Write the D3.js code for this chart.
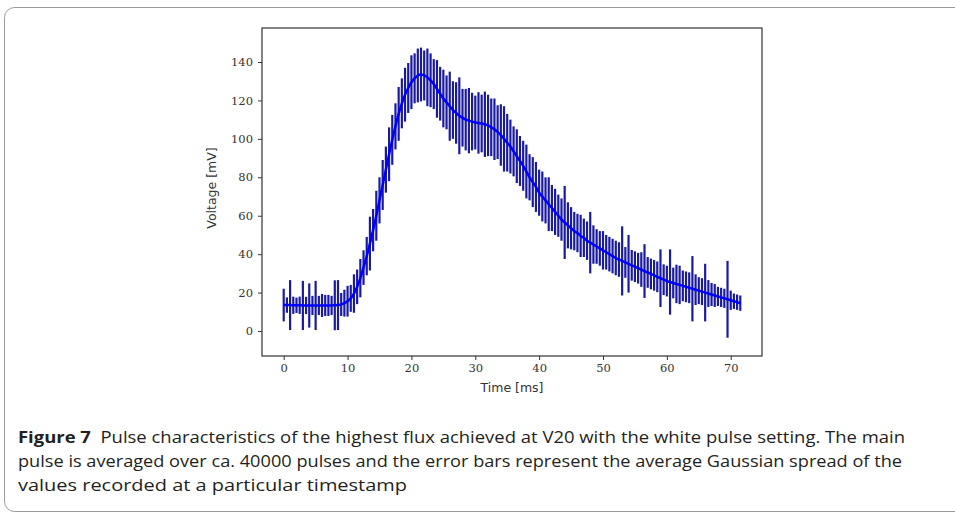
<!DOCTYPE html>
<html><head><meta charset="utf-8">
<script src="https://cdn.jsdelivr.net/npm/d3@7"></script>
<style>body{margin:0;background:#fff;}svg{display:block;}</style>
</head><body>
<svg id="chart" width="955" height="517"></svg>
<script>
// Time [ms], 0.5 ms steps
const times = [
 0,0.5,1,1.5,2,2.5,3,3.5,4,4.5,5,5.5,6,6.5,7,7.5,8,8.5,9,9.5,
 10,10.5,11,11.5,12,12.5,13,13.5,14,14.5,15,15.5,16,16.5,17,17.5,18,18.5,19,19.5,
 20,20.5,21,21.5,22,22.5,23,23.5,24,24.5,25,25.5,26,26.5,27,27.5,28,28.5,29,29.5,
 30,30.5,31,31.5,32,32.5,33,33.5,34,34.5,35,35.5,36,36.5,37,37.5,38,38.5,39,39.5,
 40,40.5,41,41.5,42,42.5,43,43.5,44,44.5,45,45.5,46,46.5,47,47.5,48,48.5,49,49.5,
 50,50.5,51,51.5,52,52.5,53,53.5,54,54.5,55,55.5,56,56.5,57,57.5,58,58.5,59,59.5,
 60,60.5,61,61.5,62,62.5,63,63.5,64,64.5,65,65.5,66,66.5,67,67.5,68,68.5,69,69.5,
 70,70.5,71,71.5];
// Mean voltage [mV]
const voltage = [
 13.5,13.5,13.5,13.4,13.4,13.4,13.3,13.3,13.3,13.3,13.3,13.3,13.3,13.3,13.3,13.3,13.4,13.5,13.8,14.5,
 15.5,17,19.5,23,27.5,33,39,45.5,52.5,60,68,76,84,92,99.5,106.5,113,118.5,123,126.5,
 129.5,131.5,133,133.5,133,132,130.5,128.5,126,123.5,121,119,117,115,113.5,112,111,110,109.5,109,
 108.5,108.3,108,107.6,107,106,105,103.5,102,100,98,96,93.5,91,88.5,86,83,80,77.5,75,
 72,70,68,66,64,62,60,58,56.5,55,53.5,52,51,49.5,48.5,47,46,45,44,43,
 42,41,40,39,38,37.2,36.5,35.7,35,34.2,33.5,32.7,32,31.2,30.5,29.7,29,28.2,27.5,26.7,
 26,25.5,25,24.5,24,23.5,23,22.5,22,21.5,21,20.5,20,19.5,19,18.5,18,17.5,17,16.5,
 16,15.5,15,14.5];
// Gaussian spread (half length of error bar) [mV]
const spread = [
 8.5,4,13,4.5,4,4.5,12.8,4.5,11.5,5,12.8,5,6,5.5,5.5,5,13,13,6,7,
 8,7,10,9,10,9,10,14,11,13,12,13,12,14,13,12,14,13,14,13,
 14,13,14,14,13,15,14,13,15,14,15,14,18,15,16,20,15,16,17,15,
 14,16,15,17,16,15,16,14,16,17,15,14,13,14,13,13,14,12,13,13,
 12,13,12,14,12,12,11,11,19,12,11,10,10,11,10,10,16,10,9,9,
 10,9,9,9,9,9,18,8,15,8,8,8,9,14,8,8,8,8,15,8,
 8,17,8,10,10,8,8,8,17,8,7,7,15,7,6,6,5,5,5,20,
 5,4,4,4];
const xTicks = [0,10,20,30,40,50,60,70];
const yTicks = [0,20,40,60,80,100,120,140];
const xLabel = "Time [ms]";
const yLabel = "Voltage [mV]";
const captionBold = "Figure 7";
const captionLines = [
 "Pulse characteristics of the highest flux achieved at V20 with the white pulse setting. The main",
 "pulse is averaged over ca. 40000 pulses and the error bars represent the average Gaussian spread of the",
 "values recorded at a particular timestamp"
];

const data = times.map((t,i)=>({t, v: voltage[i], e: spread[i]}));
const svg = d3.select("#chart");

// outer figure frame
svg.append("rect").attr("x",4.5).attr("y",7.5).attr("width",1000).attr("height",504)
  .attr("rx",10).attr("fill","none").attr("stroke","#9a9a9a").attr("stroke-width",1);

const L=262, R=762, T=28, B=356;
const x = d3.scaleLinear().domain([-3.4, 74.9]).range([L, R]);
const y = d3.scaleLinear().domain([-13, 157.7]).range([B, T]);

const serif = "'DejaVu Serif','Liberation Serif',serif";

const xAxis = svg.append("g").attr("transform",`translate(0,${B})`)
  .call(d3.axisBottom(x).tickValues(xTicks).tickSize(4).tickPadding(4).tickFormat(d3.format("d")));
const yAxis = svg.append("g").attr("transform",`translate(${L},0)`)
  .call(d3.axisLeft(y).tickValues(yTicks).tickSize(4).tickPadding(5).tickFormat(d3.format("d")));
[xAxis,yAxis].forEach(g=>{
  g.select(".domain").remove();
  g.selectAll(".tick line").attr("stroke","#333");
  g.selectAll(".tick text").attr("fill","#333").style("font-family",serif).style("font-size","11.5px");
});

// error bars
svg.append("g").selectAll("line").data(data).join("line")
  .attr("x1",d=>x(d.t)).attr("x2",d=>x(d.t))
  .attr("y1",d=>y(d.v-d.e)).attr("y2",d=>y(d.v+d.e))
  .attr("stroke","#1a1a9e").attr("stroke-width",2.2);

// mean line
svg.append("path").datum(data)
  .attr("d", d3.line().x(d=>x(d.t)).y(d=>y(d.v)).curve(d3.curveMonotoneX))
  .attr("fill","none").attr("stroke","#0000ff").attr("stroke-width",2.5);

// plot frame
svg.append("rect").attr("x",L).attr("y",T).attr("width",R-L).attr("height",B-T)
  .attr("fill","none").attr("stroke","#333").attr("stroke-width",1.2);

svg.append("text").attr("x",(L+R)/2).attr("y",392).attr("text-anchor","middle")
  .style("font-family","'DejaVu Sans','Liberation Sans',sans-serif").style("font-size","12.5px")
  .attr("fill","#333").text(xLabel);
svg.append("text").attr("transform",`translate(216,${(T+B)/2 - 4}) rotate(-90)`).attr("text-anchor","middle")
  .style("font-family","'DejaVu Sans','Liberation Sans',sans-serif").style("font-size","12.5px")
  .attr("fill","#333").text(yLabel);

// caption
const capFont = "'Open Sans','Noto Sans',sans-serif";
const lineY = [443, 467, 491];
const lineW = [887, 884, 389];
captionLines.forEach((ln,i)=>{
  const t = svg.append("text").attr("x",18).attr("y",lineY[i])
    .attr("textLength",lineW[i]).attr("lengthAdjust","spacingAndGlyphs")
    .style("font-family",capFont).style("font-size","16.5px").attr("fill","#231f20");
  if(i===0){
    t.append("tspan").style("font-weight","bold").text(captionBold + "\u00a0\u00a0");
  }
  t.append("tspan").text(ln);
});
</script>
</body></html>
